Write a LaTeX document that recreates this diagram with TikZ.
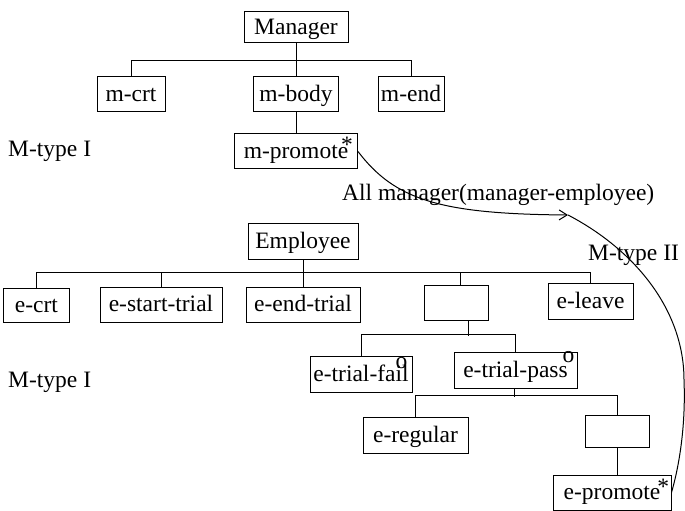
\documentclass[tikz,border=0pt]{standalone}
\usepackage{fontspec}
\setmainfont{Liberation Serif}
\usetikzlibrary{arrows.meta}

\newcommand{\supmark}[3]{\rlap{\kern#1\raisebox{#2}{#3}}}

\tikzset{
  txt/.style={font=\fontsize{23.5bp}{28bp}\selectfont},
  box/.style={txt, draw, line width=1bp, inner sep=0pt,
              text height=19bp, text depth=5bp},
  lbl/.style={txt, inner sep=0pt},
  wire/.style={line width=1bp},
}

\begin{document}
\begin{tikzpicture}[x=1bp, y=-1bp]
\useasboundingbox (0,0) rectangle (685,511);

% Manager tree
\node[box, minimum width=104bp, minimum height=31bp] (mgr)   at (296,27.5)  {Manager};
\node[box, minimum width=68bp,  minimum height=35bp] (mcrt)  at (131,94.5)  {m-crt};
\node[box, minimum width=85bp,  minimum height=35bp] (mbody) at (296,94.5)  {m-body};
\node[box, minimum width=66bp,  minimum height=35bp] (mend)  at (411,94.5)  {m-end};
\node[box, minimum width=123bp, minimum height=35bp] (mprom) at (296,151.5)
  {m-promote\supmark{-7bp}{5.5bp}{*}};

\draw[wire] (mgr.south) -- (mbody.north);
\draw[wire] (mcrt.north) -- ++(0,-16) -| (mend.north);
\draw[wire] (mbody.south) -- (mprom.north);

% Employee tree
\node[box, minimum width=110bp, minimum height=35bp] (emp)    at (303,241.5) {Employee};
\node[box, minimum width=65bp,  minimum height=34bp] (ecrt)   at (36.5,305)  {e-crt};
\node[box, minimum width=122bp, minimum height=35bp] (estart) at (161,304.5) {e-start-trial};
\node[box, minimum width=114bp, minimum height=35bp] (eend)   at (303,304.5) {e-end-trial};
\node[box, minimum width=64bp,  minimum height=35bp] (blank1) at (456,302.5) {};
\node[box, minimum width=85bp,  minimum height=36bp] (eleave) at (590.5,301) {e-leave};
\node[box, minimum width=102bp, minimum height=36bp] (efail)  at (361,374)
  {e-trial-fail\supmark{-13bp}{12.5bp}{o}};
\node[box, minimum width=123bp, minimum height=36bp] (epass)  at (515.5,370)
  {e-trial-pass\supmark{-5bp}{14.5bp}{o}};
\node[box, minimum width=105bp, minimum height=36bp] (ereg)   at (415.5,435) {e-regular};
\node[box, minimum width=64bp,  minimum height=32bp] (blank2) at (617,431)   {};
\node[box, minimum width=118bp, minimum height=35bp] (eprom)  at (612,492.5)
  {e-promote\supmark{-3bp}{5.5bp}{*}};

\draw[wire] (emp.south) -- (eend.north);
\draw[wire] (ecrt.north) -- ++(0,-15) -| (eleave.north);
\draw[wire] (estart.north) -- ++(0,-14);
\draw[wire] ([xshift=4bp]blank1.north) -- ++(0,-12);
\draw[wire] ([xshift=12bp]blank1.south) -- ++(0,15);
\draw[wire] (efail.north) -- ++(0,-21) -| (epass.north);
\draw[wire] ([xshift=-1.5bp]epass.south) -- ++(0,8);
\draw[wire] (ereg.north) -- ++(0,-21) -| (blank2.north);
\draw[wire] (blank2.south) -- (blank2.south |- eprom.north);

% side labels
\node[lbl, anchor=base west] (mt1a) at (8,157) {M-type I};
\node[lbl, anchor=base west] (mt1b) at (8,387) {M-type I};
\node[lbl, anchor=base west] (allm) at (342,201) {All manager(manager-employee)};
\node[lbl, anchor=base west] (mt2)  at (588,261) {M-type II};

% link between the two promote steps
\coordinate (via) at (568,215);
\draw[wire, -{Straight Barb[length=8bp,width=10bp]}]
  (mprom.east) .. controls (395,200) and (440,214) .. (via);
\draw[wire] (via) .. controls (635,250) and (684,310) .. (684,380)
  .. controls (686,430) and (678,470) .. (eprom.east);
\end{tikzpicture}
\end{document}
